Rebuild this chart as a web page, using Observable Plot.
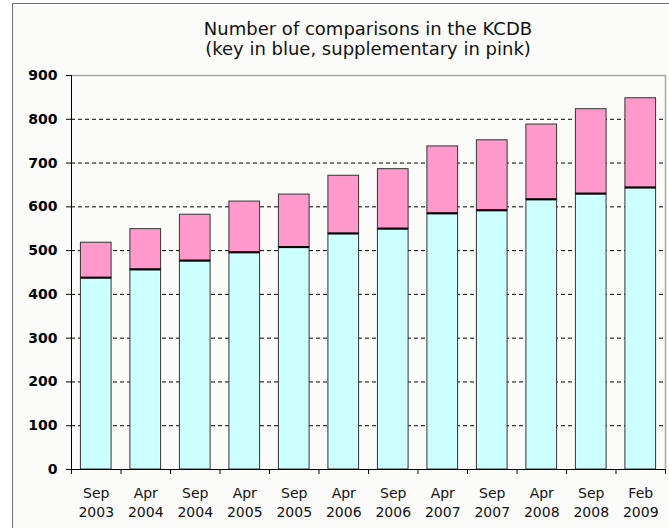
<!DOCTYPE html>
<html><head><meta charset="utf-8">
<script src="https://cdn.jsdelivr.net/npm/d3@7"></script>
<script src="https://cdn.jsdelivr.net/npm/@observablehq/plot@0.6"></script>
<style>
body{margin:0;background:#fff;font-family:"DejaVu Sans",Verdana,sans-serif;}
#wrap{position:relative;width:669px;height:528px;overflow:hidden;background:#fff;}
#frame{position:absolute;left:12px;top:3px;width:700px;height:560px;border-left:1px solid #707070;border-top:1px solid #707070;background:#fbfcfa;}
#title{position:absolute;left:71px;top:19px;width:594px;text-align:center;font-size:18px;line-height:20px;color:#111;}
#chart{position:absolute;left:0;top:62px;}
</style></head>
<body>
<div id="wrap">
<div id="frame"></div>
<div id="title">Number of comparisons in the KCDB<br>(key in blue, supplementary in pink)</div>
<div id="chart"></div>
</div>
<script>
const months = ["Sep","Apr","Sep","Apr","Sep","Apr","Sep","Apr","Sep","Apr","Sep","Feb"];
const years  = ["2003","2004","2004","2005","2005","2006","2006","2007","2007","2008","2008","2009"];
const keyComparisons   = [438,457,477,496,508,539,550,585,592,617,630,644];
const totalComparisons = [518,549,582,612,628,671,686,738,752,788,823,848];
const yTicks = [0,100,200,300,400,500,600,700,800,900];
const gridTicks = [100,200,300,400,500,600,700,800];

const data = months.map((m,i)=>({i, label: m+"\n"+years[i], key: keyComparisons[i], total: totalComparisons[i]}));
const pad = 0.19;

const chart = Plot.plot({
  width: 669,
  height: 466,
  marginTop: 13,
  marginBottom: 59,
  marginLeft: 71,
  marginRight: 4,
  style: {background: "transparent", fontFamily: "DejaVu Sans, Verdana, sans-serif"},
  x: {type: "linear", domain: [0, 12], axis: null},
  y: {domain: [0, 900], axis: null},
  marks: [
    Plot.ruleY(gridTicks, {stroke: "#000", strokeDasharray: "4,3", strokeWidth: 1}),
    Plot.ruleY([900], {stroke: "#a8a8a8", strokeWidth: 1.5}),
    Plot.ruleX([12], {y1: 0, y2: 900, stroke: "#a8a8a8", strokeWidth: 1.5}),
    Plot.rectY(data, {x1: d => d.i + pad, x2: d => d.i + 1 - pad, y1: 0, y2: "key", fill: "#ccffff", stroke: "#333", strokeWidth: 1}),
    Plot.rectY(data, {x1: d => d.i + pad, x2: d => d.i + 1 - pad, y1: "key", y2: "total", fill: "#ff99cc", stroke: "#333", strokeWidth: 1}),
    Plot.ruleY(data, {x1: d => d.i + pad, x2: d => d.i + 1 - pad, y: "key", stroke: "#000", strokeWidth: 2}),
    Plot.ruleX([0], {y1: 0, y2: 900, stroke: "#000"}),
    Plot.ruleY([0], {stroke: "#000"}),
    Plot.axisY(yTicks, {anchor: "left", tickSize: 5, tickPadding: 9, fontSize: 14, fontWeight: "bold", fill: "#000", stroke: "#000", color: "#000"}),
    Plot.axisX(d3.range(13), {anchor: "bottom", tickSize: 5, tickFormat: () => "", stroke: "#000"}),
    Plot.text(data, {x: d => d.i + 0.5, y: 0, text: "label", dy: 14, lineAnchor: "top", lineHeight: 1.42, fontSize: 14, fill: "#111"})
  ]
});
document.getElementById("chart").appendChild(chart);
</script>
</body></html>
